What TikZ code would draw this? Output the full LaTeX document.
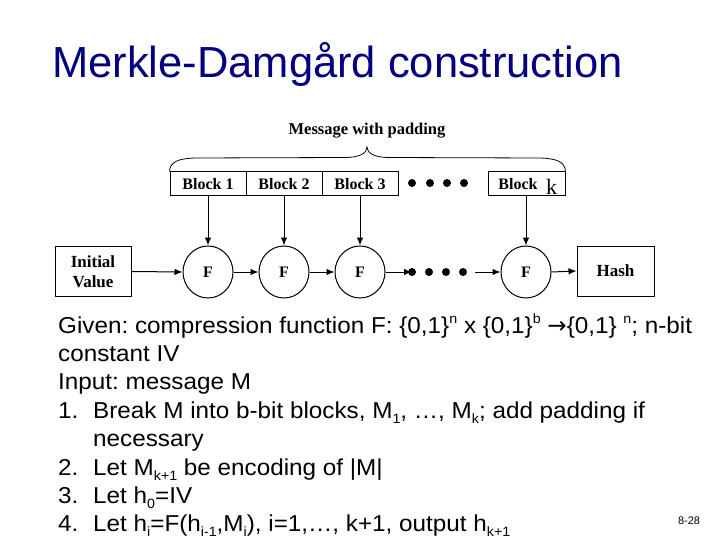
\documentclass[tikz,border=0pt]{standalone}
\usepackage{fontspec}
\setmainfont{Liberation Serif}
\newfontfamily\arialfont{Liberation Sans}
\newfontfamily\bodyfont[FakeStretch=1.055]{Liberation Sans}
\newfontfamily\arrowfont{DejaVu Sans}
\usetikzlibrary{arrows.meta,shapes.geometric}
\newcommand{\sbs}[1]{\raisebox{-0.22em}{\fontsize{13.5}{13.5}\selectfont #1}}
\newcommand{\sps}[1]{\raisebox{0.42em}{\fontsize{13.5}{13.5}\selectfont #1}}
\definecolor{titleblue}{RGB}{0,0,128}
\frenchspacing
\begin{document}
\frenchspacing
\begin{tikzpicture}[x=1pt,y=-1pt,
  lw/.style={line width=1pt},
  box/.style={draw, lw, minimum width=76pt, minimum height=24pt, inner sep=0pt,
    font=\fontsize{16}{18}\selectfont\bfseries},
  bigbox/.style={box, minimum height=50pt, align=center,
    font=\fontsize{17}{20}\selectfont\bfseries},
  fnode/.style={draw, lw, ellipse, minimum width=50pt, minimum height=52pt, inner sep=0pt,
    font=\fontsize{16}{18}\selectfont\bfseries},
  dotnode/.style={circle, fill, minimum size=8pt, inner sep=0pt},
  arr/.style={lw, -{Latex[length=8pt,width=6.5pt]}},
  body/.style={anchor=base west, inner sep=0pt, font=\bodyfont\fontsize{23}{26}\selectfont\frenchspacing},
]
\useasboundingbox (0,0) rectangle (720,540);

% title
\node[anchor=base west, inner sep=0pt, text=titleblue,
  font=\arialfont\fontsize{43.5}{50}\selectfont] (title) at (52,78) {Merkle-Damgård construction};

% message with padding
\node[inner sep=0pt, font=\fontsize{16.5}{18}\selectfont\bfseries] (msg) at (367,131) {Message with padding};

% blocks
\node[box] (b1) at (208,184) {Block 1};
\node[box] (b2) at (284,184) {Block 2};
\node[box] (b3) at (360,184) {Block 3};
\node[dotnode] (t1) at (412,183) {};
\node[dotnode] (t2) at (430,183) {};
\node[dotnode] (t3) at (447,183) {};
\node[dotnode] (t4) at (464,183) {};
\node[box, minimum width=77pt] (bk) at (526.5,184) {};
\node[inner sep=0pt, font=\fontsize{16}{18}\selectfont\bfseries] (bkt) at (518,184) {Block};
\node[anchor=base, inner sep=0pt, font=\fontsize{22}{22}\selectfont] (bkk) at (551.5,195) {k};

% brace
\draw[line width=0.8pt] (b1.north west) .. controls (170,162) and (178,158.5) .. (195,158)
  -- (345,157.5) .. controls (360,157.5) and (367,153) .. (367,147)
  .. controls (367,153) and (374,157.5) .. (389,157.5)
  -- (540,158) .. controls (557,158.5) and (565,162) .. (bk.north east);

% chain
\node[bigbox] (iv) at (93,271.5) {Initial\\Value};
\node[fnode] (f1) at (208,272) {F};
\node[fnode] (f2) at (284,272) {F};
\node[fnode] (f3) at (360,272) {F};
\node[dotnode] (d1) at (412,272) {};
\node[dotnode] (d2) at (429,272) {};
\node[dotnode] (d3) at (446,272) {};
\node[dotnode] (d4) at (463,272) {};
\coordinate (ds) at (475,272);
\node[fnode] (f4) at (526,272) {F};
\node[bigbox, minimum width=77pt] (hash) at (615.5,271) {Hash};

\draw[arr] (b1.south) -- (f1.north);
\draw[arr] (b2.south) -- (f2.north);
\draw[arr] (b3.south) -- (f3.north);
\draw[arr] (bk.south -| f4.north) -- (f4.north);

\draw[arr] (iv.east) -- (f1.west);
\draw[arr] (f1.east) -- (f2.west);
\draw[arr] (f2.east) -- (f3.west);
\draw[arr] (f3.east) -- (d1.center);
\draw[arr] (ds) -- (f4.west);
\draw[arr] (f4.east) -- (hash.west);

% body text
\node[body] (l1) at (58,333) {Given: compression function F: \{0,1\}\sps{n} x \{0,1\}\sps{b} {\arrowfont →}\{0,1\} \sps{n}; n-bit};
\node[body] (l2) at (58,361.4) {constant IV};
\node[body] (l3) at (58,389.8) {Input: message M};
\node[body] (n1) at (58,418.2) {1.};
\node[body] (l4) at (93,418.2) {Break M into b-bit blocks, M\sbs{1}, …, M\sbs{k}; add padding if};
\node[body] (l5) at (93,446.6) {necessary};
\node[body] (n2) at (58,475) {2.};
\node[body] (l6) at (93,475) {Let M\sbs{k+1} be encoding of |M|};
\node[body] (n3) at (58,503.4) {3.};
\node[body] (l7) at (93,503.4) {Let h\sbs{0}=IV};
\node[body] (n4) at (58,531.8) {4.};
\node[body] (l8) at (93,531.8) {Let h\sbs{i}=F(h\sbs{i-1},M\sbs{i}), i=1,…, k+1, output h\sbs{k+1}};

\node[inner sep=0pt, font=\arialfont\fontsize{11}{12}\selectfont] (pg) at (689,521) {8-28};
\end{tikzpicture}
\end{document}
